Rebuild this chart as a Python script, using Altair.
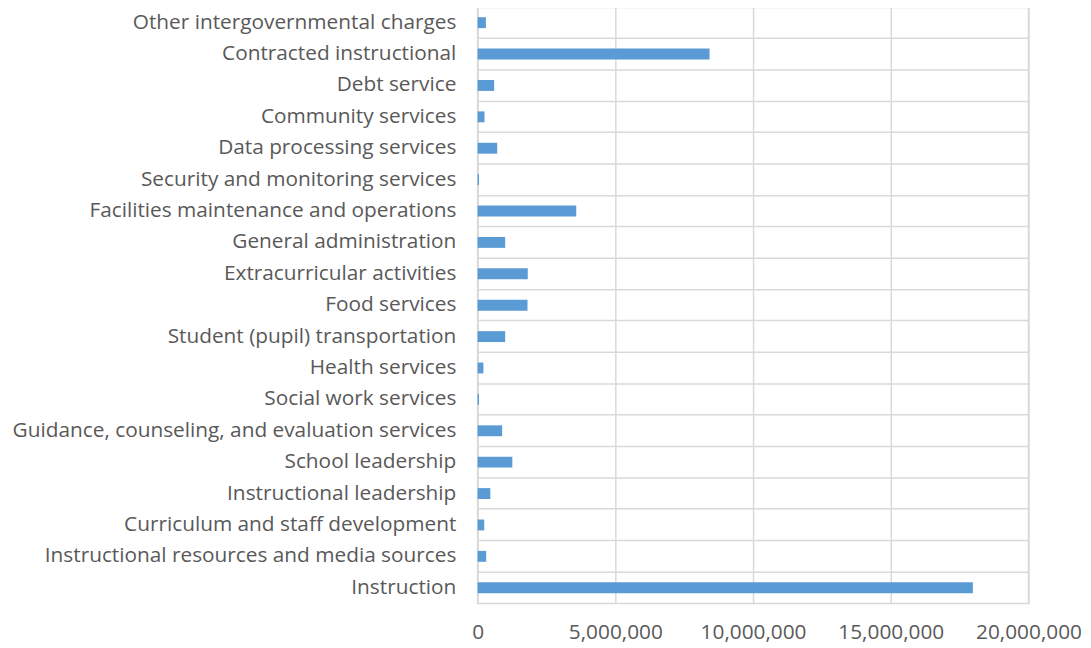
import altair as alt
import pandas as pd

categories = [
    "Other intergovernmental charges",
    "Contracted instructional",
    "Debt service",
    "Community services",
    "Data processing services",
    "Security and monitoring services",
    "Facilities maintenance and operations",
    "General administration",
    "Extracurricular activities",
    "Food services",
    "Student (pupil) transportation",
    "Health services",
    "Social work services",
    "Guidance, counseling, and evaluation services",
    "School leadership",
    "Instructional leadership",
    "Curriculum and staff development",
    "Instructional resources and media sources",
    "Instruction",
]
values = [
    300000, 8420000, 600000, 250000, 710000, 50000, 3580000, 1000000,
    1820000, 1810000, 1000000, 210000, 50000, 890000, 1260000, 460000,
    240000, 310000, 17980000,
]
x_ticks = [0, 5000000, 10000000, 15000000, 20000000]

df = pd.DataFrame({"category": categories, "value": values})

font = "Open Sans"
chart = (
    alt.Chart(df)
    .mark_bar(size=11, color="#5B9BD5")
    .encode(
        x=alt.X(
            "value:Q",
            scale=alt.Scale(domain=[0, 20000000], nice=False),
            axis=alt.Axis(
                values=x_ticks,
                format=",d",
                title=None,
                grid=True,
                gridColor="#D9D9D9",
                gridWidth=1.5,
                domain=False,
                ticks=False,
                labelPadding=18,
                labelFontSize=21,
                labelFont=font,
                labelColor="#595959",
                labelFlush=False,
            ),
        ),
        y=alt.Y(
            "category:N",
            sort=categories,
            scale=alt.Scale(paddingInner=0, paddingOuter=0),
            axis=alt.Axis(
                title=None,
                grid=True,
                bandPosition=0,
                gridColor="#D9D9D9",
                gridWidth=1.5,
                domain=False,
                ticks=False,
                labelPadding=22,
                labelFontSize=21,
                labelFont=font,
                labelColor="#595959",
                labelLimit=0,
            ),
        ),
    )
    .properties(
        width=556,
        height=602,
        autosize=alt.AutoSizeParams(type="none"),
        padding={"left": 474, "top": -4, "right": 55, "bottom": 40},
    )
    .configure_view(stroke="#D9D9D9", strokeWidth=1.5)
)

chart.save("out.html", embed_options={"renderer": "svg", "actions": False})
